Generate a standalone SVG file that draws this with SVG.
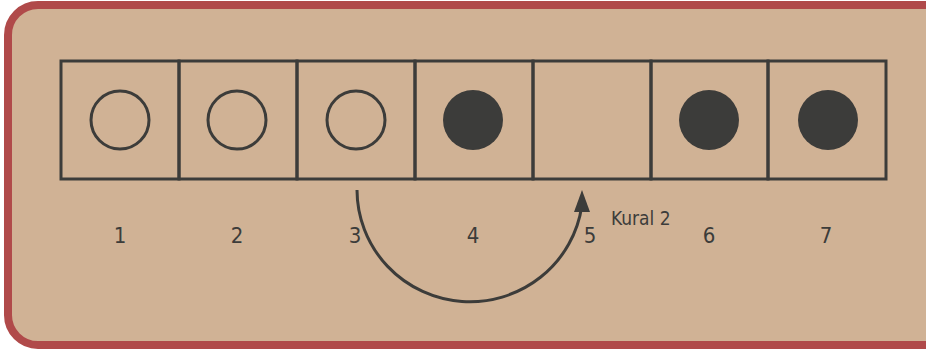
<svg xmlns="http://www.w3.org/2000/svg" width="926" height="350" viewBox="0 0 926 350">
<style>
.cell{fill:none;stroke:#3c3c3a;stroke-width:3}
.open{fill:none;stroke:#3c3c3a;stroke-width:3}
.full{fill:#3c3c3a}
.lbl{font-family:"DejaVu Sans Condensed","Liberation Sans",sans-serif;font-stretch:condensed;font-size:22px;fill:#3c3c3a;text-anchor:middle}
.note{font-family:"DejaVu Sans Condensed","Liberation Sans",sans-serif;font-stretch:condensed;font-size:19px;fill:#3c3c3a}
</style>
<rect x="8" y="5" width="950" height="340" rx="30" fill="#d0b295" stroke="#b04a4a" stroke-width="8"/>
<g id="cell1"><rect class="cell" x="61" y="61" width="118" height="118"/><circle class="open" cx="120" cy="120" r="29"/></g>
<g id="cell2"><rect class="cell" x="179" y="61" width="118" height="118"/><circle class="open" cx="237" cy="120" r="29"/></g>
<g id="cell3"><rect class="cell" x="297" y="61" width="118" height="118"/><circle class="open" cx="356" cy="120" r="29"/></g>
<g id="cell4"><rect class="cell" x="415" y="61" width="118" height="118"/><circle class="full" cx="473" cy="120" r="30"/></g>
<g id="cell5"><rect class="cell" x="533" y="61" width="118" height="118"/></g>
<g id="cell6"><rect class="cell" x="651" y="61" width="117" height="118"/><circle class="full" cx="709" cy="120" r="30"/></g>
<g id="cell7"><rect class="cell" x="768" y="61" width="118" height="118"/><circle class="full" cx="828" cy="120" r="30"/></g>
<g id="labels">
<text class="lbl" x="120" y="243">1</text>
<text class="lbl" x="237" y="243">2</text>
<text class="lbl" x="355" y="243">3</text>
<text class="lbl" x="473" y="243">4</text>
<text class="lbl" x="590" y="243">5</text>
<text class="lbl" x="709" y="243">6</text>
<text class="lbl" x="826" y="243">7</text>
<text class="note" x="611" y="225">Kural 2</text>
</g>
<g id="connectors">
<path d="M357,190 A113,112 0 0 0 581.8,206" fill="none" stroke="#3c3c3a" stroke-width="3"/>
<polygon points="582,190 574,212 590,212" fill="#3c3c3a"/>
</g>
</svg>
